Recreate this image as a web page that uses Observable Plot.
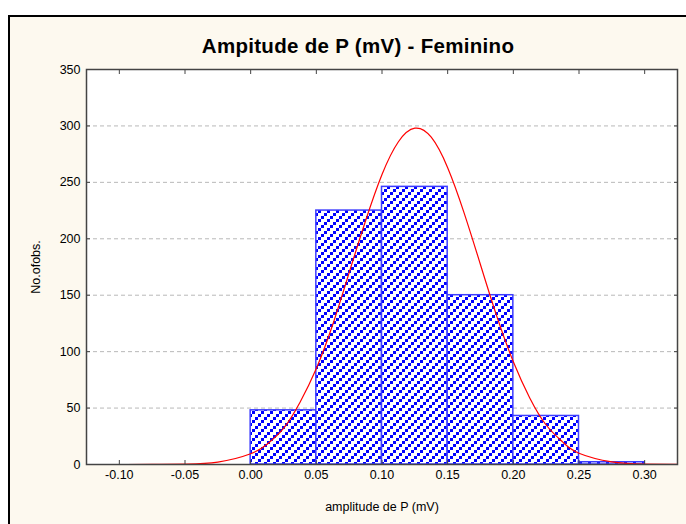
<!DOCTYPE html>
<html>
<head>
<meta charset="utf-8">
<script src="https://cdn.jsdelivr.net/npm/d3@7"></script>
<script src="https://cdn.jsdelivr.net/npm/@observablehq/plot@0.6"></script>
<style>
  html, body { margin: 0; padding: 0; background: #ffffff; }
  #wrap { position: relative; width: 686px; height: 524px; overflow: hidden; font-family: "Liberation Sans", Arial, sans-serif; }
  #panel { position: absolute; left: 8px; top: 15px; width: 720px; height: 540px; background: #fdf9ef; border-left: 2px solid #000; border-top: 2px solid #000; }
  #title { position: absolute; left: 8px; width: 700px; top: 34px; text-align: center; font-weight: bold; font-size: 20.5px; letter-spacing: 0.3px; color: #000; }
  #wrap svg { position: absolute; left: 0; top: 0; }
</style>
</head>
<body>
<div id="wrap">
  <div id="panel"></div>
  <div id="title">Ampitude de P (mV) - Feminino</div>
</div>
<script>
// Histogram bins (mV) and counts
const binStart = [0.00, 0.05, 0.10, 0.15, 0.20, 0.25];
const binEnd   = [0.05, 0.10, 0.15, 0.20, 0.25, 0.30];
const counts   = [48, 225, 246, 150, 43, 2];

// Fitted normal curve
const curveX = [-0.125, -0.10, -0.075, -0.05, -0.025, 0.00, 0.0125, 0.025, 0.0375, 0.05, 0.0625, 0.075, 0.0875, 0.10, 0.1125, 0.125, 0.1375, 0.15, 0.1625, 0.175, 0.1875, 0.20, 0.2125, 0.225, 0.2375, 0.25, 0.275, 0.30, 0.325];
const curveY = [0, 0.02, 0.05, 0.4, 2.1, 9.5, 18, 32, 55, 85, 124, 170, 216, 257, 286, 298, 290, 263, 223, 177, 131, 91, 59, 35, 20, 10, 2.4, 0.4, 0.05];

// Tick values
const xTicks = [-0.10, -0.05, 0.00, 0.05, 0.10, 0.15, 0.20, 0.25, 0.30];
const yTicks = [0, 50, 100, 150, 200, 250, 300, 350];
const gridTicks = [50, 100, 150, 200, 250, 300];

const bars = counts.map((c, i) => ({x1: binStart[i], x2: binEnd[i], y: c}));
const curve = curveX.map((x, i) => ({x, y: curveY[i]}));
const fmt = d => d.toFixed(2);

const chart = Plot.plot({
  width: 686,
  height: 524,
  marginLeft: 86,
  marginRight: 9,
  marginTop: 69,
  marginBottom: 60,
  x: {domain: [-0.125, 0.325]},
  y: {domain: [0, 350]},
  style: {background: "transparent", fontFamily: "'Liberation Sans', Arial, sans-serif", fontSize: "12.5px", color: "#000"},
  marks: [
    Plot.frame({fill: "white", stroke: null}),
    Plot.gridY(gridTicks, {stroke: "#b9b9b9", strokeOpacity: 1, strokeDasharray: "4,3"}),
    Plot.rectY(bars, {x1: "x1", x2: "x2", y: "y", fill: "url(#hatch)", stroke: "#3c3cff", strokeWidth: 1.5}),
    Plot.line(curve, {x: "x", y: "y", stroke: "#ff0000", strokeWidth: 1.2, curve: "natural", clip: true}),
    Plot.frame({stroke: "#444", strokeWidth: 1.5}),
    Plot.axisX(xTicks, {anchor: "bottom", tickSize: -4, tickPadding: 10, tickFormat: fmt, stroke: "#444",
      label: "amplitude de P (mV)", labelAnchor: "center", labelOffset: 46, labelArrow: "none"}),
    Plot.axisX(xTicks, {anchor: "top", tickSize: -4, tickFormat: () => "", stroke: "#444", label: null}),
    Plot.axisY(yTicks, {anchor: "left", tickSize: -4, tickPadding: 10, stroke: "#444",
      label: "No.ofobs.", labelAnchor: "center", labelOffset: 55, labelArrow: "none"}),
    Plot.axisY(yTicks, {anchor: "right", tickSize: -4, tickFormat: () => "", stroke: "#444", label: null})
  ]
});

// hatch pattern for the bars: diagonal lines of blue squares
const svg = d3.select(chart);
const defs = svg.insert("defs", ":first-child");
const pat = defs.append("pattern")
  .attr("id", "hatch")
  .attr("patternUnits", "userSpaceOnUse")
  .attr("width", 9).attr("height", 9);
pat.append("rect").attr("width", 9).attr("height", 9).attr("fill", "#ffffff");
[[0, 6], [3, 3], [6, 0]].forEach(([px, py]) => {
  pat.append("rect").attr("x", px).attr("y", py).attr("width", 3).attr("height", 3)
    .attr("fill", "#0000ff").attr("shape-rendering", "crispEdges");
});

document.getElementById("wrap").appendChild(chart);
</script>
</body>
</html>
